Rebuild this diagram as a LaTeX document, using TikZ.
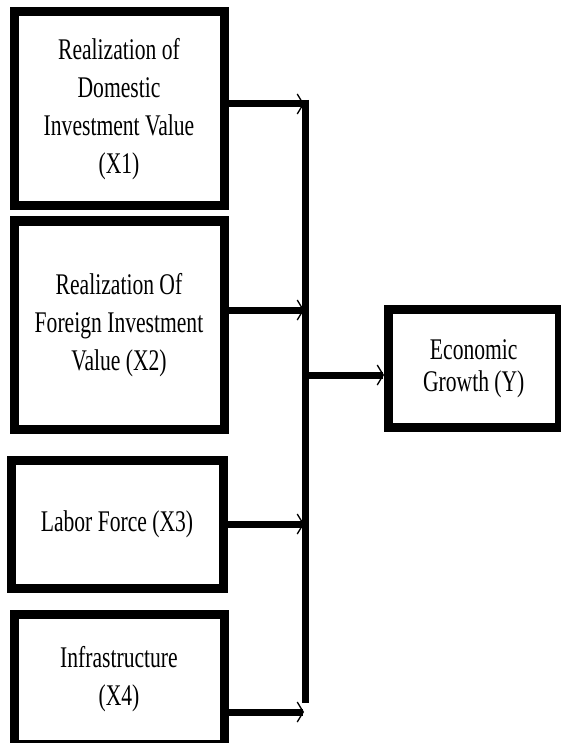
\documentclass[tikz,border=0pt]{standalone}
\usepackage{fontspec}
\setmainfont{Liberation Serif}[FakeStretch=0.72]
\usetikzlibrary{arrows.meta}
\begin{document}
\begin{tikzpicture}[x=1pt,y=-1pt,
  box/.style={draw=black,line width=9pt,fill=white,align=center,inner sep=0pt,
    font=\fontsize{30}{38}\selectfont},
  conn/.style={line width=7pt,-{Straight Barb[length=6pt,width=20pt,line width=1.3pt]}},
  bus/.style={line width=6.5pt}]
\useasboundingbox (0,0) rectangle (560,743);
\node[box,minimum width=210pt,minimum height=194pt] (b1) at (119,109)
  {Realization of\\Domestic\\Investment Value\\(X1)};
\node[box,minimum width=210pt,minimum height=208pt] (b2) at (119,325)
  {Realization Of\\Foreign Investment\\Value (X2)};
\node[box,minimum width=212pt,minimum height=128pt] (b3) at (117,524)
  {Labor Force (X3)};
\node[box,minimum width=210pt,minimum height=130pt] (b4) at (119,679.5)
  {Infrastructure\\(X4)};
\node[box,minimum width=170.5pt,minimum height=118pt,
  font=\fontsize{30}{32}\selectfont] (y) at (473.75,368.5)
  {Economic\\Growth (Y)};
\coordinate (vtop) at (305.5,100);
\coordinate (vbot) at (305.5,703);
\coordinate (v1) at (304,104);
\coordinate (v2) at (304,310);
\coordinate (v3) at (304,524);
\coordinate (v4) at (304,712);
\coordinate (vy) at (309,375);
\draw[bus] (vtop) -- (vbot);
\draw[conn] (v1 -| b1.east) -- (v1);
\draw[conn] (v2 -| b2.east) -- (v2);
\draw[conn] (v3 -| b3.east) -- (v3);
\draw[conn] (v4 -| b4.east) -- (v4);
\draw[conn] (vy) -- (vy -| y.west);
\end{tikzpicture}
\end{document}
